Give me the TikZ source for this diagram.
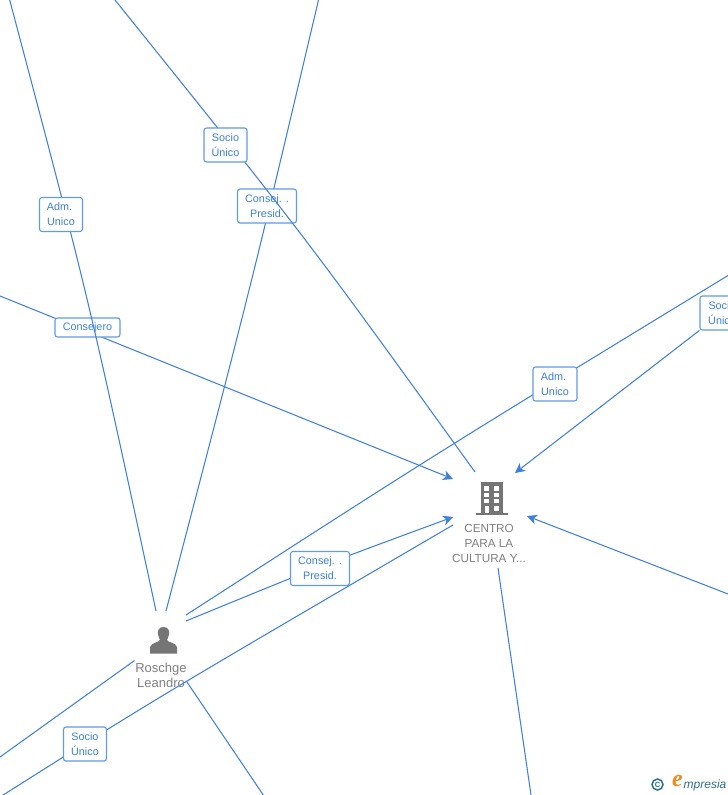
\documentclass[tikz,border=0pt]{standalone}
\usepackage{fontspec}
\setmainfont{Liberation Sans}
\newfontfamily\logofont{Liberation Serif}
\usetikzlibrary{arrows.meta}
\definecolor{linkblue}{HTML}{3F80DE}
\definecolor{boxblue}{HTML}{5F9BE6}
\definecolor{textblue}{HTML}{3D80D8}
\definecolor{icongray}{HTML}{757575}
\definecolor{labelgray}{HTML}{808080}
\definecolor{logoteal}{HTML}{2F6F8F}
\definecolor{logoorange}{HTML}{F08A1D}
\tikzset{
  x=1pt,y=-1pt,
  link/.style={draw=linkblue,line width=1.05pt},
  tolink/.style={link,-{Stealth[length=10pt,width=10pt,inset=3pt]}},
  rolebox/.style={draw=boxblue,fill=white,line width=1.1pt,rounded corners=2.5pt,
    text=textblue,font=\fontsize{10.8}{15}\selectfont,align=center,inner sep=0pt},
  entity/.style={text=labelgray,font=\fontsize{11.7}{15}\selectfont,align=center,inner sep=0pt},
  person/.style={entity,font=\fontsize{13}{15}\selectfont},
  iconfill/.style={fill=icongray,draw=none}
}
\begin{document}
\begin{tikzpicture}
\useasboundingbox (0,0) rectangle (728,795);
\clip (0,0) rectangle (728,795);
\fill[white] (0,0) rectangle (728,795);
% free ends
\coordinate (tA) at (9.7,0);
\coordinate (tB) at (318.5,0);
\coordinate (tC) at (115,0);
\coordinate (lD) at (0,296);
\coordinate (rE) at (728,275.5);
\coordinate (rG) at (728,594);
\coordinate (bH) at (531,795);
\coordinate (bJ) at (0,797);
\coordinate (lK) at (0,757);
\coordinate (bL) at (263.3,795);
% ends near the two entities
\coordinate (pN) at (156,611);
\coordinate (pNb) at (166,611);
\coordinate (pE) at (186,615);
\coordinate (pEb) at (186,621);
\coordinate (pSW) at (134.5,660.5);
\coordinate (pSE) at (186.7,681.7);
\coordinate (cN) at (475,472);
\coordinate (cNE) at (515,473);
\coordinate (cNW) at (453,479);
\coordinate (cW) at (453,517);
\coordinate (cWb) at (453,525);
\coordinate (cE) at (527,516);
\coordinate (cS) at (498,568);
% boxes and connectors, in stacking order
\draw[link] (tB) .. controls (251.3,285) .. (pNb);
\node[rolebox,minimum width=59pt,minimum height=34pt] (consA) at (267,206) {Consej. .\\Presid.};
\draw[link] (tC) .. controls (304,235) .. (cN);
\node[rolebox,minimum width=43pt,minimum height=34pt] (socA) at (225.5,145) {Socio\\Único};
\draw[tolink] (lD) -- (cNW);
\node[rolebox,minimum width=65pt,minimum height=19pt] (consero) at (87.5,327.5) {Consejero};
\draw[link] (tA) .. controls (88.7,298) .. (pN);
\node[rolebox,minimum width=43pt,minimum height=34pt] (admA) at (61,214.5) {Adm.\hspace*{3pt}\\Unico};
\draw[link] (rE) .. controls (437,453) .. (pE);
\node[rolebox,minimum width=44pt,minimum height=34pt] (admB) at (555,384) {Adm.\hspace*{3pt}\\Unico};
\node[rolebox,minimum width=44pt,minimum height=34pt] (socB) at (722,313) {Socio\\Único};
\draw[tolink] (socB) -- (cNE);
\draw[tolink] (rG) -- (cE);
\draw[link] (cS) -- (bH);
\draw[tolink] (pEb) .. controls (320,566) .. (cW);
\node[rolebox,minimum width=59pt,minimum height=34pt] (consB) at (320,568.5) {Consej. .\\Presid.};
\draw[link] (bJ) .. controls (155,699) .. (cWb);
\node[rolebox,minimum width=43pt,minimum height=34pt] (socC) at (85,744) {Socio\\Único};
\draw[link] (lK) -- (pSW);
\draw[link] (pSE) -- (bL);
% building icon
\begin{scope}[shift={(476,482)}]
  \fill[iconfill] (4.7,0.3) rectangle (27.3,31);
  \fill[iconfill] (0,31) rectangle (32,33);
  \foreach \cy/\ch in {4/4.7,10.7/4.6,17.3/4}{
    \fill[white] (8,\cy) rectangle (13,\cy+\ch);
    \fill[white] (18,\cy) rectangle (23.3,\cy+\ch);
  }
  \fill[white] (9,24) rectangle (13,31.3);
  \fill[white] (18,24) rectangle (23.3,28.7);
\end{scope}
% person icon
\begin{scope}[shift={(150,627)}]
  \fill[iconfill] (13.5,0) .. controls (8.5,0) and (7.5,4) .. (8,7)
     .. controls (8.3,10) and (9.5,11.5) .. (10,13)
     .. controls (9.5,15.5) and (1,15.5) .. (0,20)
     -- (0,26.5) -- (27,26.5) -- (27,20)
     .. controls (26,15.5) and (17.5,15.5) .. (17,13)
     .. controls (17.5,11.5) and (18.7,10) .. (19,7)
     .. controls (19.5,4) and (18.5,0) .. (13.5,0) -- cycle;
\end{scope}
% entity labels
\node[entity] (centro) at (489,543) {CENTRO\\PARA LA\\CULTURA Y...};
\node[person] (roschge) at (161,675.5) {Roschge\\Leandro};
% logo
\node[draw=logoteal,line width=1.5pt,circle,minimum size=11pt,inner sep=0pt,text=logoteal,
  font=\bfseries\fontsize{7.5}{7.5}\selectfont] (copy) at (657.5,784.5) {C};
\node[inner sep=0pt,text=logoorange,font=\logofont\itshape\bfseries\fontsize{24}{24}\selectfont] (logoe) at (677.5,781) {e};
\node[inner sep=0pt,anchor=west,text=logoteal,font=\itshape\fontsize{12}{12}\selectfont] (logot) at (683.5,785) {mpresia};
\end{tikzpicture}
\end{document}
